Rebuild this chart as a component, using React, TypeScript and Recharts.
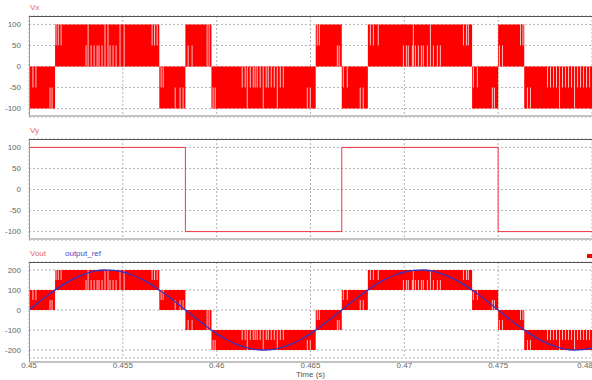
import {
  ComposedChart,
  Area,
  Line,
  XAxis,
  YAxis,
  CartesianGrid,
  ReferenceLine,
} from "recharts";

// time axis (s)
const xTicks = [0.45, 0.455, 0.46, 0.465, 0.47, 0.475, 0.48];

// PWM bands: each band holds from its start time to the next one
const bandStart = [0.45, 0.451389, 0.456944, 0.458333, 0.459722, 0.465278, 0.466667, 0.468056, 0.473611, 0.475, 0.476389, 0.48];
const vxLow = [-100, 0, -100, 0, -100, 0, -100, 0, -100, 0, -100, -100];
const vxHigh = [0, 100, 0, 100, 0, 100, 0, 100, 0, 100, 0, 0];
const voutLow = [0, 100, 0, -100, -200, -100, 0, 100, 0, -100, -200, -200];
const voutHigh = [100, 200, 100, 0, -100, 0, 100, 200, 100, 0, -100, -100];

// Vy square wave
const vyTime = [0.45, 0.458333, 0.466667, 0.475, 0.48];
const vyValue = [100, -100, 100, -100, -100];

// output_ref samples
const refTime = [
  0.45, 0.4505, 0.451, 0.4515, 0.452, 0.4525, 0.453, 0.4535, 0.454, 0.4545,
  0.455, 0.4555, 0.456, 0.4565, 0.457, 0.4575, 0.458, 0.4585, 0.459, 0.4595,
  0.46, 0.4605, 0.461, 0.4615, 0.462, 0.4625, 0.463, 0.4635, 0.464, 0.4645,
  0.465, 0.4655, 0.466, 0.4665, 0.467, 0.4675, 0.468, 0.4685, 0.469, 0.4695,
  0.47, 0.4705, 0.471, 0.4715, 0.472, 0.4725, 0.473, 0.4735, 0.474, 0.4745,
  0.475, 0.4755, 0.476, 0.4765, 0.477, 0.4775, 0.478, 0.4785, 0.479, 0.4795,
  0.48,
];
const refValue = [
  0, 38, 74, 107, 137, 162, 181, 194, 200, 198,
  190, 175, 154, 128, 96, 62, 25, -13, -50, -85,
  -118, -146, -169, -186, -197, -200, -197, -186, -169, -146,
  -118, -85, -50, -13, 25, 62, 96, 128, 154, 175,
  190, 198, 200, 194, 181, 162, 137, 107, 74, 38,
  0, -38, -74, -107, -137, -162, -181, -194, -200, -198,
  -190,
];

// light gaps inside the Vx switching bands: [time, low, high]
const vxGaps: [number, number, number][] = [
  [0.45021, -50, 0], [0.45037, -50, 0], [0.45112, -100, -50], [0.45123, -100, -50],
  [0.45144, 50, 100], [0.45156, 50, 100], [0.45171, 50, 100],
  [0.45304, 0, 50], [0.45315, 0, 100], [0.45331, 0, 50], [0.45347, 0, 50], [0.45363, 0, 50],
  [0.45373, 0, 50], [0.45389, 0, 50], [0.45405, 0, 100], [0.45421, 0, 100], [0.45432, 0, 50],
  [0.45448, 0, 50], [0.45464, 0, 50], [0.45485, 0, 100], [0.45507, 0, 100],
  [0.45656, 50, 100], [0.45669, 50, 100], [0.45683, 50, 100],
  [0.45704, -50, 0], [0.45715, -50, 0], [0.45779, -100, -50], [0.45805, -100, -50], [0.45821, -100, -50],
  [0.45848, 0, 50], [0.45869, 0, 50], [0.45949, 0, 100], [0.4596, 0, 100],
  [0.45981, -100, -50], [0.45992, -100, -50],
  [0.46136, -50, 0], [0.46152, -50, 0], [0.46163, -100, 0], [0.46179, -50, 0], [0.46195, -50, 0],
  [0.46205, -50, 0], [0.46216, -50, 0], [0.46232, -50, 0], [0.46248, -100, 0], [0.46264, -50, 0],
  [0.46275, -50, 0], [0.46291, -50, 0], [0.46307, -50, 0], [0.46323, -100, 0], [0.46339, -50, 0],
  [0.46355, -50, 0],
  [0.46483, -100, -50], [0.46499, -100, -50],
  [0.46536, 50, 100], [0.46547, 50, 100], [0.46643, 0, 50], [0.46653, 0, 50],
  [0.46675, -50, 0], [0.46696, -50, 0], [0.46765, -100, -50], [0.46781, -100, -50],
  [0.46819, 50, 100], [0.46835, 50, 100], [0.46861, 50, 100],
  [0.46995, 0, 50], [0.47011, 0, 50], [0.47021, 0, 50], [0.47043, 0, 50], [0.47048, 0, 100],
  [0.47059, 0, 50], [0.47075, 0, 50], [0.47091, 0, 50], [0.47101, 0, 50], [0.47123, 0, 50],
  [0.47139, 0, 100], [0.47155, 0, 50], [0.47176, 0, 50], [0.47192, 0, 50],
  [0.47315, 50, 100], [0.47331, 50, 100], [0.47341, 50, 100],
  [0.47368, -50, 0], [0.47389, -50, 0], [0.47469, -100, -50], [0.4748, -100, -50],
  [0.47507, 0, 50], [0.47523, 0, 50], [0.47619, 50, 100], [0.47632, 50, 100],
  [0.47656, -100, -50], [0.47672, -100, -50],
  [0.47763, -50, 0], [0.47779, -50, 0], [0.47795, -50, 0], [0.47811, -50, 0], [0.47827, -100, 0],
  [0.47843, -50, 0], [0.47859, -50, 0], [0.47875, -50, 0], [0.47891, -50, 0], [0.47907, -100, 0],
  [0.47923, -50, 0], [0.47939, -50, 0], [0.47955, -50, 0], [0.47971, -50, 0], [0.47987, -50, 0],
];

const vxRows = bandStart.map((t, i) => ({ t, v: [vxLow[i], vxHigh[i]] }));
const voutRows = bandStart.map((t, i) => ({ t, v: [voutLow[i], voutHigh[i]] }));
const vyRows = vyTime.map((t, i) => ({ t, v: vyValue[i] }));
const refRows = refTime.map((t, i) => ({ t, v: refValue[i] }));

function vyAt(t: number) {
  let level = vyValue[0];
  vyTime.forEach((vt, i) => {
    if (t >= vt) level = vyValue[i];
  });
  return level;
}
// Vout = Vx + Vy, so its gaps sit at the same times shifted by Vy
const voutGaps = vxGaps.map(([t, lo, hi]) => [t, lo + vyAt(t), hi + vyAt(t)]);

const W = 592;
const RED = "#ff0000";
const GAP = "#f6c2c2";
const tickStyle = { fontSize: 8, fill: "#666" };

function Frame({ top }: { top: number }) {
  return (
    <div
      style={{
        position: "absolute",
        left: 29,
        top,
        width: W - 29,
        height: 101,
        boxSizing: "border-box",
        borderTop: "1px solid #555",
        borderLeft: "1px solid #999",
        borderBottom: "2px solid #c4c4c4",
        pointerEvents: "none",
      }}
    />
  );
}

function Title({ text, left, top, color }: { text: string; left: number; top: number; color: string }) {
  return (
    <div style={{ position: "absolute", left, top, fontSize: 8, color, lineHeight: "10px" }}>{text}</div>
  );
}

function TimeTick(props: any) {
  const { x, y, payload } = props;
  const last = payload.value === 0.48;
  return (
    <text x={x + (last ? -7 : 0)} y={y} dy="0.71em" textAnchor="middle" fontSize={8} fill="#666">
      {payload.value}
    </text>
  );
}

function gapLines(gaps: number[][], key: string) {
  return gaps.map(([t, lo, hi], i) => (
    <ReferenceLine
      key={key + i}
      segment={[{ x: t, y: lo }, { x: t, y: hi }]}
      stroke={GAP}
      strokeWidth={1}
    />
  ));
}

export default function App() {
  return (
    <div
      style={{
        position: "absolute",
        left: 0,
        top: 0,
        width: W,
        height: 380,
        overflow: "hidden",
        background: "#fff",
        fontFamily: "'Liberation Sans', Arial, sans-serif",
      }}
    >
      {/* Vx */}
      <div style={{ position: "absolute", left: 0, top: 0 }}>
        <ComposedChart width={W} height={120} data={vxRows} margin={{ top: 16, right: 0, bottom: 3, left: 0 }}>
          <CartesianGrid stroke="#b4b4b4" strokeDasharray="2 2" />
          <XAxis hide type="number" dataKey="t" domain={[0.45, 0.48]} ticks={xTicks} allowDataOverflow />
          <YAxis
            width={29}
            domain={[-120, 120]}
            ticks={[-100, -50, 0, 50, 100]}
            interval={0}
            tick={tickStyle}
            tickLine={false}
            axisLine={false}
          />
          <Area
            dataKey="v"
            type="stepAfter"
            stroke="none"
            fill={RED}
            fillOpacity={1}
            dot={false}
            activeDot={false}
            isAnimationActive={false}
          />
          {gapLines(vxGaps, "vx")}
        </ComposedChart>
        <Frame top={16} />
      </div>

      {/* Vy */}
      <div style={{ position: "absolute", left: 0, top: 123 }}>
        <ComposedChart width={W} height={120} data={vyRows} margin={{ top: 16, right: 0, bottom: 3, left: 0 }}>
          <CartesianGrid stroke="#b4b4b4" strokeDasharray="2 2" />
          <XAxis hide type="number" dataKey="t" domain={[0.45, 0.48]} ticks={xTicks} allowDataOverflow />
          <YAxis
            width={29}
            domain={[-120, 120]}
            ticks={[-100, -50, 0, 50, 100]}
            interval={0}
            tick={tickStyle}
            tickLine={false}
            axisLine={false}
          />
          <Line
            dataKey="v"
            type="stepAfter"
            stroke="#f03a48"
            strokeWidth={1}
            dot={false}
            activeDot={false}
            isAnimationActive={false}
          />
        </ComposedChart>
        <Frame top={16} />
      </div>

      {/* Vout */}
      <div style={{ position: "absolute", left: 0, top: 246 }}>
        <ComposedChart width={W} height={134} margin={{ top: 16, right: 0, bottom: 0, left: 0 }}>
          <CartesianGrid stroke="#b4b4b4" strokeDasharray="2 2" />
          <XAxis
            type="number"
            dataKey="t"
            domain={[0.45, 0.48]}
            ticks={xTicks}
            interval={0}
            allowDataOverflow
            height={22}
            tickLine={false}
            axisLine={false}
            tickSize={3}
            tickMargin={1}
            tick={<TimeTick />}
            label={{ value: "Time (s)", position: "insideBottom", offset: 3, fontSize: 8, fill: "#555" }}
          />
          <YAxis
            width={29}
            domain={[-240, 240]}
            ticks={[-200, -100, 0, 100, 200]}
            interval={0}
            tick={tickStyle}
            tickLine={false}
            axisLine={false}
          />
          <Area
            data={voutRows}
            dataKey="v"
            type="stepAfter"
            stroke="none"
            fill={RED}
            fillOpacity={1}
            dot={false}
            activeDot={false}
            isAnimationActive={false}
          />
          {gapLines(voutGaps, "vo")}
          <Line
            data={refRows}
            dataKey="v"
            type="monotone"
            stroke="#3434c0"
            strokeWidth={1.3}
            dot={false}
            activeDot={false}
            isAnimationActive={false}
          />
        </ComposedChart>
        <Frame top={16} />
        <div style={{ position: "absolute", left: 587, top: 8, width: 5, height: 4, background: RED }} />
      </div>

      <Title text="Vx" left={30} top={3} color="#e06a6a" />
      <Title text="Vy" left={30} top={126} color="#e06a6a" />
      <Title text="Vout" left={30} top={249} color="#e06a6a" />
      <Title text="output_ref" left={65} top={249} color="#4a4ac8" />
    </div>
  );
}
